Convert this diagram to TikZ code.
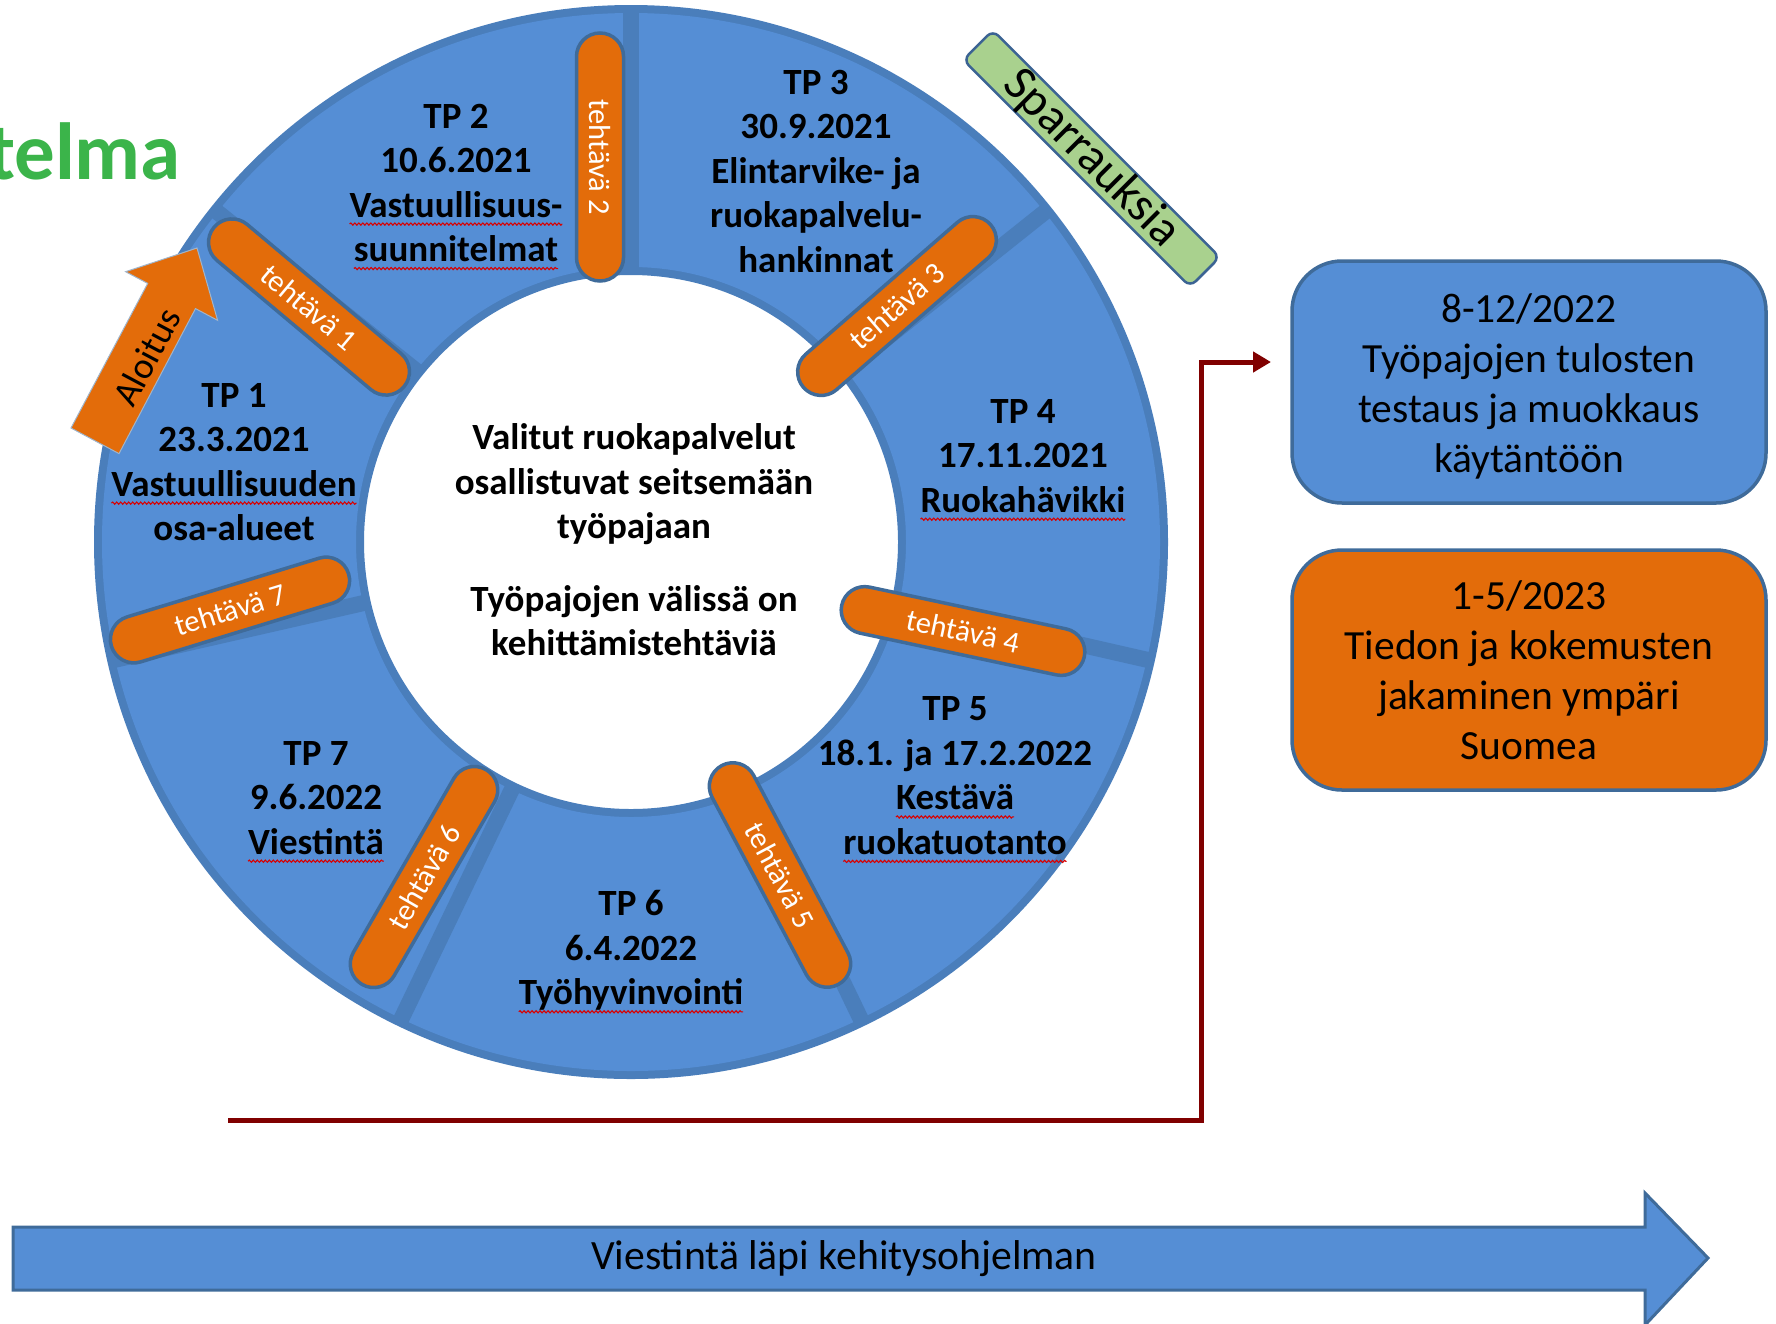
\documentclass[tikz,border=0pt]{standalone}
\usepackage{fontspec}
\setmainfont{Carlito}
\usetikzlibrary{arrows.meta,decorations.pathmorphing,calc}
\definecolor{ringlight}{HTML}{558ED5}
\definecolor{ringdark}{HTML}{4A7EBB}
\definecolor{edgeblue}{HTML}{3F6B9A}
\definecolor{boxedge}{HTML}{3B6393}
\definecolor{orng}{HTML}{E36C0A}
\definecolor{sparr}{HTML}{A9D18E}
\definecolor{titlegreen}{HTML}{3BB44A}
\definecolor{darkred}{HTML}{800000}
\newcommand{\wv}[1]{\tikz[baseline=(wvn.base)]{\node[inner sep=0pt,outer sep=0pt,draw=none,fill=none,minimum size=0pt,anchor=center,rotate=0] (wvn) {#1};\draw[red!85!black,line width=1.1pt,decorate,decoration={snake,amplitude=1.1pt,segment length=4pt}] ($(wvn.base west)+(0pt,-7pt)$) -- ($(wvn.base east)+(0pt,-7pt)$);}}
\tikzset{
  pill/.style={draw=edgeblue, line width=3.5pt, fill=orng, rounded corners=23.5pt,
    minimum width=248pt, minimum height=47pt, inner sep=0pt, text=white,
    font=\fontsize{30.5}{36}\selectfont},
  seg/.style={align=center, font=\fontsize{37}{44.5}\selectfont\bfseries, inner sep=0pt, text=black},
  bigbox/.style={draw=edgeblue, line width=3.5pt, rounded corners=50pt, minimum width=474pt,
    minimum height=242pt, inner sep=0pt},
  boxtext/.style={align=center, font=\fontsize{41.5}{50}\selectfont, inner sep=0pt, text=black},
  redline/.style={darkred, line width=5pt, -{Triangle[length=18pt,width=20pt]}},
}
\begin{document}
\begin{tikzpicture}[x=1pt,y=-1pt]
\useasboundingbox (0,0) rectangle (1776,1323);
% title fragment
\node[anchor=base east, inner sep=0pt, text=titlegreen, font=\fontsize{81}{90}\selectfont\bfseries] (ttl) at (181,179) {telma};
% ring
\begin{scope}[shift={(631,542)}, y=1pt]
  \fill[ringdark, even odd rule] (0,0) circle[radius=537] (0,0) circle[radius=267];
  \fill[ringlight, even odd rule] (0,0) circle[radius=529] (0,0) circle[radius=275];
  \foreach \a in {90,38.571,-12.857,-64.286,-115.714,-167.143,141.429}
    \draw[ringdark, line width=16pt] (\a:269) -- (\a:535);
\end{scope}
% Aloitus arrow
\fill[orng, draw=edgeblue!50, line width=1pt] (71,428) -- (147.7,283.4) -- (125.6,271.7) -- (197,248) -- (217.6,320.3) -- (195.5,308.6) -- (119,453.6) -- cycle;
\node[rotate=62, inner sep=0pt, font=\fontsize{37}{40}\selectfont] (alo) at (147,357) {Aloitus};
% pills
\node[pill, rotate=-40] (t1) at (309,307) {tehtävä 1};
\node[pill, rotate=-90] (t2) at (600,157) {tehtävä 2};
\node[pill, rotate=41] (t3) at (897,306) {tehtävä 3};
\node[pill, rotate=-12] (t4) at (963,631) {tehtävä 4};
\node[pill, rotate=-62] (t5) at (780,875) {tehtävä 5};
\node[pill, rotate=60] (t6) at (424,877) {tehtävä 6};
\node[pill, rotate=17] (t7) at (230,610) {tehtävä 7};
% segment texts
\node[seg] (tp1) at (234,462) {TP 1\\23.3.2021\\\wv{Vastuullisuuden}\\osa-alueet};
\node[seg] (tp2) at (456,187) {TP 2\\10.6.2021\\\wv{Vastuullisuus-}\\\wv{suunnitelmat}};
\node[seg] (tp3) at (816,171) {TP 3\\30.9.2021\\Elintarvike- ja\\ruokapalvelu-\\hankinnat};
\node[seg] (tp4) at (1023,460) {TP 4\\17.11.2021\\\wv{Ruokahävikki}};
\node[seg] (tp5) at (955,780) {TP 5\\18.1. ja 17.2.2022\\\wv{Kestävä}\\\wv{ruokatuotanto}};
\node[seg] (tp6) at (631,952) {TP 6\\6.4.2022\\\wv{Työhyvinvointi}};
\node[seg] (tp7) at (316,802) {TP 7\\9.6.2022\\\wv{Viestintä}};
\node[seg] (mid) at (634,540) {Valitut ruokapalvelut\\osallistuvat seitsemään\\työpajaan\\[28pt]Työpajojen välissä on\\kehittämistehtäviä};
% Sparrauksia
\node[draw=boxedge, line width=2.5pt, fill=sparr, rounded corners=8pt, minimum width=321pt,
  minimum height=42pt, inner sep=0pt, rotate=-45, font=\fontsize{49}{50}\selectfont] (sp) at (1091.5,158.5) {Sparrauksia};
% right boxes
\node[bigbox, fill=ringlight] (b1) at (1529,382) {};
\node[boxtext] (b1t) at (1529,386) {8-12/2022\\Työpajojen tulosten\\testaus ja muokkaus\\käytäntöön};
\node[bigbox, fill=orng, minimum height=240pt] (b2) at (1529,670) {};
\node[boxtext] (b2t) at (1529,670) {1-5/2023\\Tiedon ja kokemusten\\jakaminen ympäri\\Suomea};
% red connector
\coordinate (rs) at (228,1120);
\coordinate (rc) at (1201,362);
\coordinate (re) at (1271,362);
\draw[redline] (rs) -| (rc) -- (re);
% bottom arrow
\draw[draw=edgeblue, line width=3pt, fill=ringlight] (13,1227) -- (1645,1227) -- (1645,1193) -- (1708,1258) -- (1645,1325) -- (1645,1290) -- (13,1290) -- cycle;
\node[inner sep=0pt, font=\fontsize{41.7}{50}\selectfont] (comm) at (844,1259) {Viestintä läpi kehitysohjelman};
\end{tikzpicture}
\end{document}
